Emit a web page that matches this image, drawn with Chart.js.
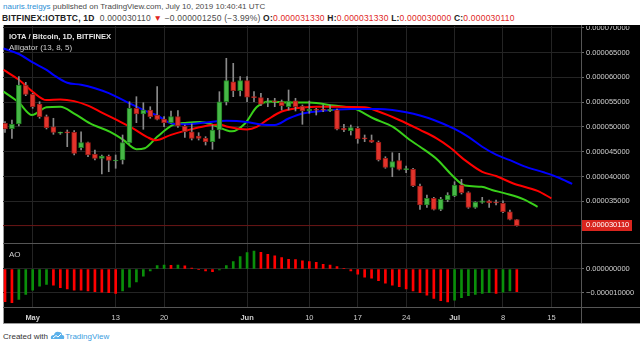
<!DOCTYPE html>
<html>
<head>
<meta charset="utf-8">
<script src="https://cdn.jsdelivr.net/npm/chart.js@4.4.0/dist/chart.umd.min.js"></script>
<style>
  body { margin: 0; width: 640px; height: 347px; background: #fff; position: relative; overflow: hidden;
         font-family: "Liberation Sans", Arial, sans-serif; }
  .hdr { position: absolute; left: 3px; font-size: 8px; color: #4a4a4a; white-space: nowrap; }
  #h1 { top: 2px; }
  #h2 { top: 13px; left: 2px; font-size: 8.5px; letter-spacing: 0.2px; }
  #h1 .user { color: #2e8fd6; }
  #h2 b { color: #222; }
  .red { color: #e0261e; }
  #panel { position: absolute; left: 3px; top: 25px; width: 637px; height: 299px; background: #000;
           border-left: 1px solid #9a9a9a; border-bottom: 1px solid #9a9a9a; box-sizing: border-box; }
  .wrap { position: absolute; left: 3px; width: 637px; }
  #priceWrap { top: 26px; height: 217px; }
  #aoWrap { top: 243px; height: 81px; }
  .sep { position: absolute; background: #555; z-index: 5; }
  .leg { position: absolute; left: 9px; font-size: 8px; color: #cfcfcf; white-space: nowrap; z-index: 6; }
  #credit { position: absolute; left: 3px; top: 331px; font-size: 8px; color: #333; white-space: nowrap; }
  #credit .tv { color: #3c9de0; }
</style>
</head>
<body>
<div class="hdr" id="h1"><span class="user">nauris.treigys</span> published on TradingView.com, July 10, 2019 10:40:41 UTC</div>
<div class="hdr" id="h2"><b>BITFINEX:IOTBTC, 1D</b>&nbsp; 0.000030110 <span class="red">▼</span> −0.000001250 (−3.99%) <b>O:</b><span class="red">0.000031330</span> <b>H:</b><span class="red">0.000031330</span> <b>L:</b><span class="red">0.000030000</span> <b>C:</b><span class="red">0.000030110</span></div>
<div id="panel"></div>
<div class="wrap" id="priceWrap"><canvas id="priceChart"></canvas></div>
<div class="wrap" id="aoWrap"><canvas id="aoChart"></canvas></div>
<div class="sep" style="left:3px;top:243px;width:637px;height:1px"></div>
<div class="sep" style="left:3px;top:307px;width:637px;height:1px"></div>
<div class="sep" style="left:581px;top:25px;width:1px;height:298px"></div>
<div class="leg" style="top:32px;color:#e6e6e6;font-weight:bold;font-size:7.6px">IOTA / Bitcoin, 1D, BITFINEX</div>
<div class="leg" style="top:43px">Alligator (13, 8, 5)</div>
<div class="leg" style="top:250px">AO</div>
<div id="credit">Created with <svg width="15" height="9" viewBox="0 0 15 9" style="vertical-align:-1px"><path d="M1 8 Q0 4 4 4 Q5 0 9 1 Q12 1 12 4 Q15 4 14 8 Z" fill="#5ab0ea"/><path d="M3 7 L6 4.5 L8 6 L11 3" stroke="#fff" stroke-width="1" fill="none"/></svg><span class="tv">TradingView</span></div>

<script>
// days counted from May 1 2019 (0 = May 1); first candle is Apr 27
const FIRST_DAY = -4;
const X_MIN = -4.29;
const X_MAX = 79.28;

// prices in units of 0.000001 BTC
const openP = [
  50.73, 49.65, 50.60, 58.45, 56.57, 54.60, 52.06, 50.04, 48.75, 48.85,
  48.91, 45.81, 46.82, 44.48, 43.67, 44.07, 43.13, 43.33, 46.82, 53.75,
  52.60, 53.41, 52.40, 51.59, 50.85, 52.06, 50.18, 49.03, 48.17, 47.70,
  47.02, 49.38, 55.08, 59.11, 57.30, 59.32, 55.97, 55.89, 54.76, 55.28,
  55.08, 54.07, 55.28, 54.21, 53.21, 53.55, 53.42, 53.21, 53.41, 49.72,
  49.24, 49.72, 47.82, 47.36, 46.90, 43.67, 41.85, 43.19, 41.40, 41.45,
  38.09, 34.26, 35.61, 33.39, 35.27, 36.07, 38.29, 36.74, 33.79, 34.80,
  35.12, 34.80, 34.60, 32.90, 31.33
];
const highP = [
  51.05, 51.39, 60.12, 58.99, 56.77, 55.08, 52.40, 51.74, 48.95, 49.38,
  49.28, 49.03, 46.96, 45.35, 44.34, 44.34, 44.34, 48.37, 55.08, 56.09,
  54.88, 54.07, 58.11, 52.06, 53.21, 53.27, 50.38, 50.59, 48.83, 48.03,
  50.38, 57.10, 63.83, 62.82, 60.12, 60.12, 57.10, 56.77, 55.77, 55.77,
  55.42, 57.44, 55.77, 54.42, 55.22, 53.75, 54.42, 54.42, 53.61, 50.53,
  50.38, 50.04, 48.37, 48.37, 47.16, 43.99, 44.80, 44.68, 42.12, 41.66,
  38.49, 36.27, 35.81, 35.81, 36.74, 38.95, 39.44, 36.94, 34.92, 35.81,
  35.27, 35.27, 35.12, 33.25, 31.33
];
const lowP = [
  48.91, 47.70, 50.20, 56.29, 53.75, 51.74, 49.58, 48.51, 48.50, 46.01,
  44.34, 45.35, 43.99, 43.33, 40.50, 40.97, 41.66, 42.52, 46.70, 50.85,
  49.52, 51.74, 51.39, 50.04, 50.73, 49.92, 47.90, 47.36, 47.36, 46.35,
  45.49, 47.70, 54.42, 56.09, 56.23, 55.08, 55.08, 54.28, 54.07, 54.07,
  53.41, 53.41, 53.21, 50.53, 52.74, 52.40, 53.07, 53.07, 49.38, 49.03,
  48.37, 46.70, 47.02, 46.85, 43.13, 41.66, 39.96, 41.31, 40.77, 37.95,
  33.39, 33.79, 33.25, 33.11, 34.92, 35.93, 36.47, 33.59, 33.59, 34.60,
  33.79, 34.26, 32.70, 31.23, 30.00
];
const closeP = [
  49.58, 50.53, 58.45, 56.57, 54.07, 52.06, 49.84, 48.91, 48.85, 48.80,
  44.68, 46.82, 44.34, 43.67, 44.14, 43.27, 43.33, 46.86, 53.75, 52.60,
  53.41, 52.06, 51.53, 50.85, 52.06, 50.18, 49.03, 47.70, 47.70, 47.02,
  49.38, 55.08, 59.32, 57.30, 59.32, 55.97, 55.90, 54.56, 55.08, 55.08,
  54.28, 55.22, 54.07, 53.21, 53.61, 53.35, 53.38, 53.55, 49.52, 49.38,
  49.84, 47.56, 47.56, 46.90, 43.33, 41.85, 42.99, 41.45, 41.50, 38.09,
  34.26, 35.61, 33.39, 35.41, 36.27, 38.29, 36.74, 33.79, 34.80, 35.12,
  34.66, 34.66, 32.90, 31.37, 30.11
];

// Alligator lines (already shifted forward)
const jawDays = [-4.2, -2, 0, 2, 3, 5, 7, 9, 11, 13.5, 16, 18, 20, 22, 25, 28, 31, 33, 35, 37, 39, 42, 46, 50, 52, 54, 56, 58, 61, 63, 65, 67, 69, 71, 74, 76, 78];
const jawVals = [65.8, 64.7, 63.0, 61.5, 60.5, 58.9, 58.5, 57.8, 56.8, 55.1, 53.4, 52.3, 50.75, 50.55, 50.9, 51.25, 51.0, 50.5, 50.4, 51.7, 52.7, 53.25, 53.6, 53.6, 53.4, 52.95, 52.3, 51.4, 49.6, 48.0, 46.0, 44.4, 43.3, 42.1, 40.8, 39.8, 38.5];
const teethDays = [-4.2, -2, 0, 2, 4, 6, 8, 10, 12, 14.5, 16.5, 17.8, 20, 22, 25, 27, 28, 31, 32.4, 34, 36, 38, 41, 44, 48, 50, 53, 56, 58.4, 60.3, 62.5, 65, 67, 69.5, 73, 75];
const teethVals = [61.5, 59.5, 57.1, 55.4, 55.55, 55.2, 54.3, 52.9, 51.5, 49.7, 48.0, 47.3, 48.4, 49.2, 50.2, 50.5, 50.1, 49.5, 50.0, 51.5, 53.1, 53.75, 54.07, 54.07, 53.95, 53.1, 51.4, 49.4, 47.7, 45.9, 43.3, 40.95, 40.1, 38.6, 37.1, 35.6];
const lipsDays = [-4.2, -2, -0.1, 2, 4, 6, 8.3, 11.2, 13.1, 15, 16.2, 18, 20.3, 22.3, 24.2, 26.1, 28.8, 30.7, 32.4, 34.3, 36.7, 40, 43.5, 46.4, 49.3, 52.1, 54.5, 56, 58.6, 60.6, 62.5, 64.9, 66.4, 68.3, 71, 73];
const lipsVals = [57.1, 54.9, 52.4, 53.95, 54.07, 52.7, 50.7, 49.0, 47.4, 45.5, 45.7, 48.0, 50.4, 50.85, 51.0, 50.4, 49.1, 50.7, 54.0, 55.1, 54.9, 54.9, 54.3, 53.75, 51.7, 50.0, 47.4, 46.0, 43.3, 40.3, 38.2, 37.95, 37.3, 36.6, 35.4, 33.9];

// Awesome Oscillator, same units, one bar per candle
const aoVals = [
  -13.8, -14.2, -12.8, -10.7, -8.9, -7.2, -6.5, -6.8, -7.9, -8.4,
  -8.9, -8.95, -9.2, -9.6, -9.8, -10.0, -10.3, -9.3, -7.7, -5.4,
  -3.0, -0.8, 1.4, 1.7, 1.6, 1.7, 1.3, 0.4, -0.1, -0.8,
  -1.1, -0.4, 1.4, 3.1, 5.2, 6.9, 7.6, 7.0, 6.2, 5.6,
  4.8, 4.1, 4.0, 3.4, 3.1, 2.8, 2.0, 1.7, 1.0, 0.3,
  -0.8, -2.2, -3.5, -3.9, -4.9, -6.0, -6.8, -7.5, -8.4, -9.2,
  -10.0, -11.0, -12.4, -13.4, -13.9, -13.1, -12.1, -11.3, -10.7, -10.3,
  -10.0, -10.3, -9.8, -9.3, -9.6
];

const tickDays = [0, 12, 19, 31, 40, 47, 54, 61, 68, 75];
const tickLabels = ["May", "13", "20", "Jun", "10", "17", "24", "Jul", "8", "15"];
const priceTicks = [35, 40, 45, 50, 55, 60, 65, 70];
const aoTicks = [-10, 0];

const UP = "#47b847", UP_EDGE = "#1f7d1f";
const DOWN = "#e2332b", DOWN_EDGE = "#961c17";
const GRID = "#242424";
const AXIS_TEXT = "#cfcfcf";

Chart.defaults.font.family = '"Liberation Sans", Arial, sans-serif';
Chart.defaults.font.size = 7.5;
Chart.defaults.animation = false;

function fmt(v) {
  const s = (v * 1e-6).toFixed(9);
  return s.replace("-", "\u2212");
}

// no automatic label padding: the plot must fill the whole pane
function noPad(s) {
  s.paddingTop = 0;
  s.paddingBottom = 0;
  s.paddingLeft = 0;
  s.paddingRight = 0;
}

const days = openP.map((_, i) => FIRST_DAY + i);
const isUp = openP.map((o, i) => closeP[i] >= o);
const last = closeP.length - 1;

const lastPriceTag = {
  id: "lastPriceTag",
  afterDraw(chart) {
    const y = chart.scales.y.getPixelForValue(closeP[last]);
    const x = chart.chartArea.right;
    const ctx = chart.ctx;
    ctx.save();
    ctx.fillStyle = "#d9251e";
    ctx.fillRect(x, Math.round(y - 6), 51, 11);
    ctx.fillStyle = "#fff";
    ctx.font = '7.5px "Liberation Sans", Arial, sans-serif';
    ctx.textBaseline = "middle";
    ctx.fillText(fmt(closeP[last]), x + 5, y - 0.5);
    ctx.restore();
  }
};

function lineSet(xs, ys, color) {
  return {
    type: "line",
    data: xs.map((x, i) => ({ x, y: ys[i] })),
    borderColor: color,
    borderWidth: 2,
    pointRadius: 0,
    cubicInterpolationMode: "monotone",
    order: 2
  };
}

new Chart(document.getElementById("priceChart"), {
  type: "bar",
  data: {
    datasets: [
      {
        data: days.map((d, i) => ({ x: d, y: [openP[i], closeP[i]] })),
        backgroundColor: isUp.map(u => u ? UP : DOWN),
        borderColor: isUp.map(u => u ? UP_EDGE : DOWN_EDGE),
        borderWidth: 1,
        borderSkipped: false,
        barThickness: 5,
        minBarLength: 1,
        grouped: false,
        order: 0
      },
      {
        data: days.map((d, i) => ({ x: d, y: [lowP[i], highP[i]] })),
        backgroundColor: "#8a8a8a",
        barThickness: 1,
        grouped: false,
        order: 1
      },
      lineSet(jawDays, jawVals, "#0000ff"),
      lineSet(teethDays, teethVals, "#ff0000"),
      lineSet(lipsDays, lipsVals, "#39d01a"),
      {
        type: "line",
        data: [{ x: X_MIN, y: closeP[last] }, { x: X_MAX, y: closeP[last] }],
        borderColor: "#6a1616",
        borderWidth: 1,
        pointRadius: 0,
        order: 3
      }
    ]
  },
  options: {
    responsive: true,
    maintainAspectRatio: false,
    events: [],
    layout: { padding: 0 },
    plugins: { legend: { display: false }, tooltip: { enabled: false } },
    scales: {
      x: {
        type: "linear", min: X_MIN, max: X_MAX, offset: false,
        afterBuildTicks: s => { s.ticks = tickDays.map(v => ({ value: v })); },
        afterFit: s => { s.height = 0; noPad(s); },
        ticks: { display: false },
        grid: { color: GRID, drawTicks: false, offset: false },
        border: { display: false }
      },
      y: {
        position: "right", min: 26.6, max: 70.34,
        afterBuildTicks: s => { s.ticks = priceTicks.map(v => ({ value: v })); },
        afterFit: s => { s.width = 59; noPad(s); },
        ticks: { color: AXIS_TEXT, padding: 2, callback: v => fmt(v) },
        grid: { color: GRID, tickLength: 3, tickColor: "#6a6a6a" },
        border: { display: false }
      }
    }
  },
  plugins: [lastPriceTag]
});

new Chart(document.getElementById("aoChart"), {
  type: "bar",
  data: {
    datasets: [{
      data: days.map((d, i) => ({ x: d, y: aoVals[i] })),
      backgroundColor: aoVals.map((v, i) => (i > 0 && v > aoVals[i - 1]) ? "#0a8f0a" : "#ff0000"),
      barThickness: 2,
      grouped: false
    }]
  },
  options: {
    responsive: true,
    maintainAspectRatio: false,
    events: [],
    layout: { padding: 0 },
    plugins: { legend: { display: false }, tooltip: { enabled: false } },
    scales: {
      x: {
        type: "linear", min: X_MIN, max: X_MAX, offset: false,
        afterBuildTicks: s => { s.ticks = tickDays.map(v => ({ value: v })); },
        afterFit: s => { s.height = 16.3; noPad(s); },
        ticks: {
          color: AXIS_TEXT, padding: 5.5, maxRotation: 0, autoSkip: false,
          font: ctx => ({ size: 7.5, weight: isNaN(Number(tickLabels[ctx.index])) ? "bold" : "normal" }),
          callback: (v, i) => tickLabels[i]
        },
        grid: { color: GRID, drawTicks: false, offset: false },
        border: { display: false }
      },
      y: {
        position: "right", min: -16.33, max: 10.97,
        afterBuildTicks: s => { s.ticks = aoTicks.map(v => ({ value: v })); },
        afterFit: s => { s.width = 59; noPad(s); },
        ticks: { color: AXIS_TEXT, padding: 2, callback: v => fmt(v) },
        grid: { color: GRID, tickLength: 3, tickColor: "#6a6a6a" },
        border: { display: false }
      }
    }
  }
});
</script>
</body>
</html>
